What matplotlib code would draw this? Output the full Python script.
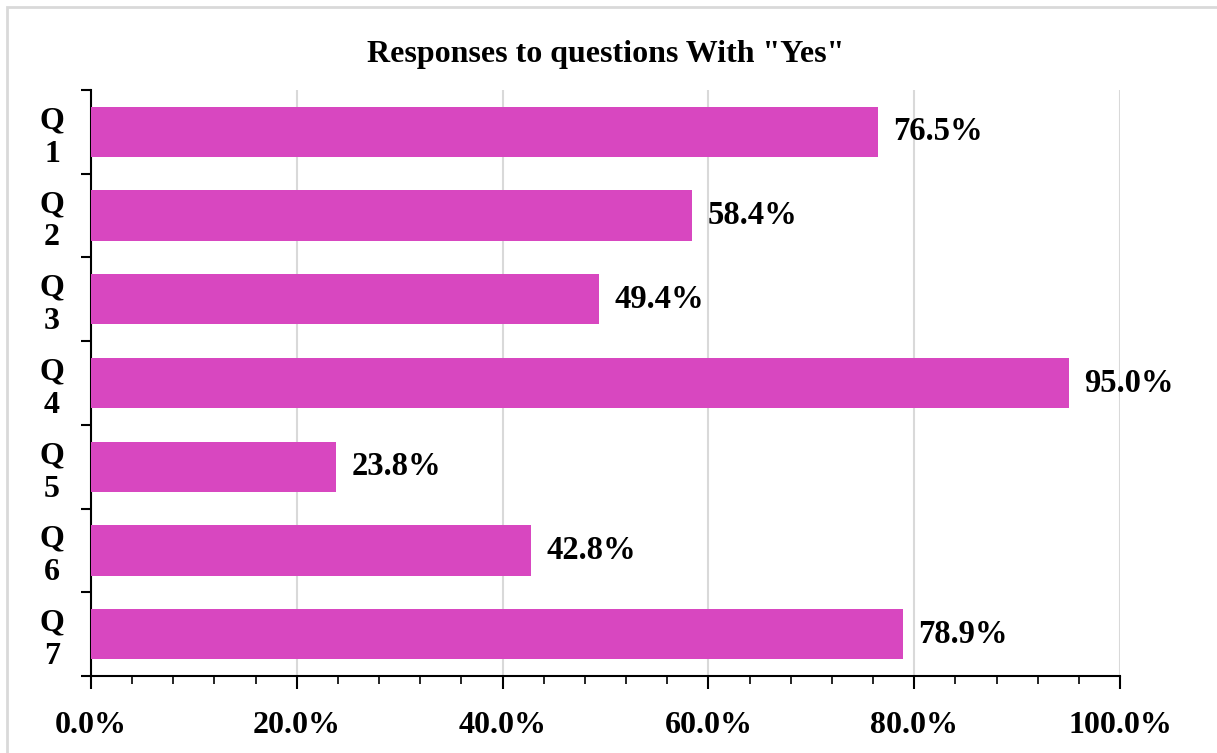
import matplotlib.pyplot as plt
from matplotlib.patches import Rectangle
from matplotlib.ticker import MultipleLocator, FuncFormatter, FixedLocator

questions = ['Q\n1', 'Q\n2', 'Q\n3', 'Q\n4', 'Q\n5', 'Q\n6', 'Q\n7']
yes_pct = [76.5, 58.4, 49.4, 95.0, 23.8, 42.8, 78.9]
title = 'Responses to questions With "Yes"'

plt.rcParams['font.family'] = ['Liberation Serif', 'DejaVu Serif']
plt.rcParams['font.weight'] = 'bold'

fig = plt.figure(figsize=(12.17, 7.53), dpi=100)
ax = fig.add_axes([91 / 1217, 1 - 676 / 753, (1120 - 91) / 1217, (676 - 90) / 753])

# outer chart frame (cut off at right and bottom like the source)
fig.patches.append(Rectangle((7 / 1217, -0.05), 1.2, 1 - 7 / 753 + 0.05,
                             transform=fig.transFigure, fill=False,
                             edgecolor='#d9d9d9', lw=2, zorder=0))

pos = list(range(len(questions)))
ax.barh(pos, yes_pct, height=0.6, color='#d847c0', zorder=3)
for p, v in zip(pos, yes_pct):
    ax.text(v + 1.5, p, '{:.1f}%'.format(v), va='center', ha='left',
            fontsize=23.5, fontweight='bold', zorder=4)

ax.set_xlim(0, 100)
ax.set_ylim(len(questions) - 0.5, -0.5)
ax.set_title(title, fontsize=23, fontweight='bold', pad=20)

ax.xaxis.set_major_locator(MultipleLocator(20))
ax.xaxis.set_minor_locator(MultipleLocator(4))
ax.xaxis.set_major_formatter(FuncFormatter(lambda x, _: '{:.1f}%'.format(x)))
ax.tick_params(axis='x', which='major', length=9, width=1.5, labelsize=23, pad=16)
ax.tick_params(axis='x', which='minor', length=6, width=1.2)
ax.grid(axis='x', color='#d9d9d9', lw=1.5, zorder=0)

# category boundaries get the ticks, centres get the labels
ax.yaxis.set_major_locator(FixedLocator([i - 0.5 for i in range(len(questions) + 1)]))
ax.yaxis.set_minor_locator(FixedLocator(pos))
ax.yaxis.set_major_formatter(FuncFormatter(lambda y, _: ''))
ax.set_yticklabels(questions, minor=True, fontsize=23, fontweight='bold',
                   linespacing=1.2)
ax.tick_params(axis='y', which='major', length=7, width=1.5)
ax.tick_params(axis='y', which='minor', length=0, pad=28)
for lbl in ax.get_yticklabels(minor=True):
    lbl.set_ha('center')

for s in ['top', 'right']:
    ax.spines[s].set_visible(False)
ax.spines['left'].set_linewidth(1.5)
ax.spines['bottom'].set_linewidth(1.5)

plt.savefig('out.png', dpi=100)
